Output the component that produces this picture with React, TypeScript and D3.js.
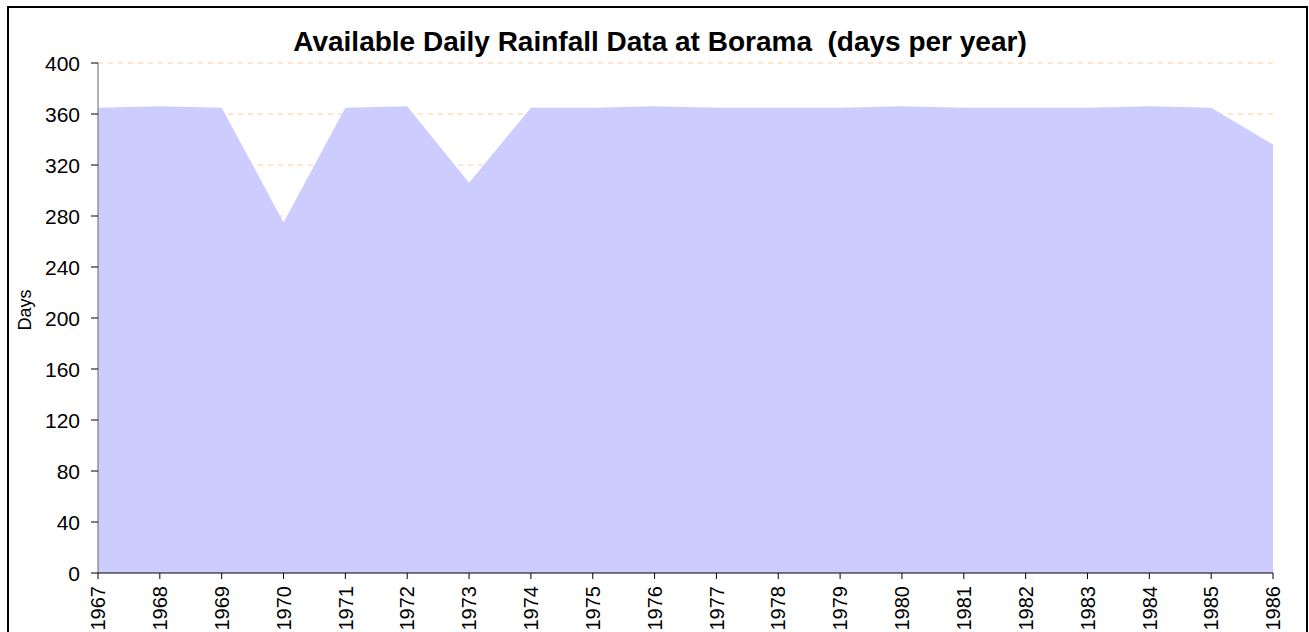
import React from "react";
import * as d3 from "d3";

const years: number[] = [1967, 1968, 1969, 1970, 1971, 1972, 1973, 1974, 1975, 1976, 1977, 1978, 1979, 1980, 1981, 1982, 1983, 1984, 1985, 1986];
const days: number[] = [365, 366, 365, 275, 365, 366, 306, 365, 365, 366, 365, 365, 365, 366, 365, 365, 365, 366, 365, 336];
const yTicks: number[] = [0, 40, 80, 120, 160, 200, 240, 280, 320, 360, 400];
const title = "Available Daily Rainfall Data at Borama  (days per year)";
const yLabel = "Days";

export default function App() {
  const W = 1309, H = 632;
  const left = 98, right = 1273, top = 63, bottom = 573;
  const x = d3.scaleLinear().domain([years[0], years[years.length - 1]]).range([left, right]);
  const y = d3.scaleLinear().domain([0, 400]).range([bottom, top]);
  const area = d3.area<number>()
    .x((_, i) => x(years[i]))
    .y0(y(0))
    .y1((d) => y(d));
  const font = "'Liberation Sans', Arial, sans-serif";
  return (
    <svg width={W} height={H} style={{ position: "fixed", left: 0, top: 0, background: "#fff" }}>
      <rect x={8} y={7} width={1299} height={640} fill="#fff" stroke="#000" strokeWidth={2} />
      {yTicks.filter((t) => t > 0).map((t) => (
        <line key={"g" + t} x1={left} x2={right} y1={y(t)} y2={y(t)} stroke="#FFCC99" strokeWidth={1} strokeDasharray="5,5" />
      ))}
      <path d={area(days) || ""} fill="#CCCCFF" />
      <line x1={left} x2={left} y1={top} y2={bottom} stroke="#666" strokeWidth={1} />
      <line x1={left} x2={right} y1={bottom} y2={bottom} stroke="#000" strokeWidth={1} />
      {yTicks.map((t) => (
        <g key={"y" + t}>
          <line x1={left - 7} x2={left} y1={y(t)} y2={y(t)} stroke="#000" />
          <text x={80} y={y(t)} dy="0.36em" textAnchor="end" fontFamily={font} fontSize={21} fill="#000">{t}</text>
        </g>
      ))}
      {years.map((yr) => (
        <g key={"x" + yr}>
          <line x1={x(yr)} x2={x(yr)} y1={bottom} y2={bottom + 6} stroke="#000" />
          <text transform={`translate(${x(yr)},${bottom + 13}) rotate(-90)`} dy="0.36em" textAnchor="end" fontFamily={font} fontSize={20} fill="#000">{yr}</text>
        </g>
      ))}
      <text transform={`translate(25,310) rotate(-90)`} dy="0.36em" textAnchor="middle" fontFamily={font} fontSize={18} fill="#000">{yLabel}</text>
      <text x={660} y={51} textAnchor="middle" fontFamily={font} fontSize={28} fontWeight="bold" fill="#000" style={{ whiteSpace: "pre" }}>{title}</text>
    </svg>
  );
}
